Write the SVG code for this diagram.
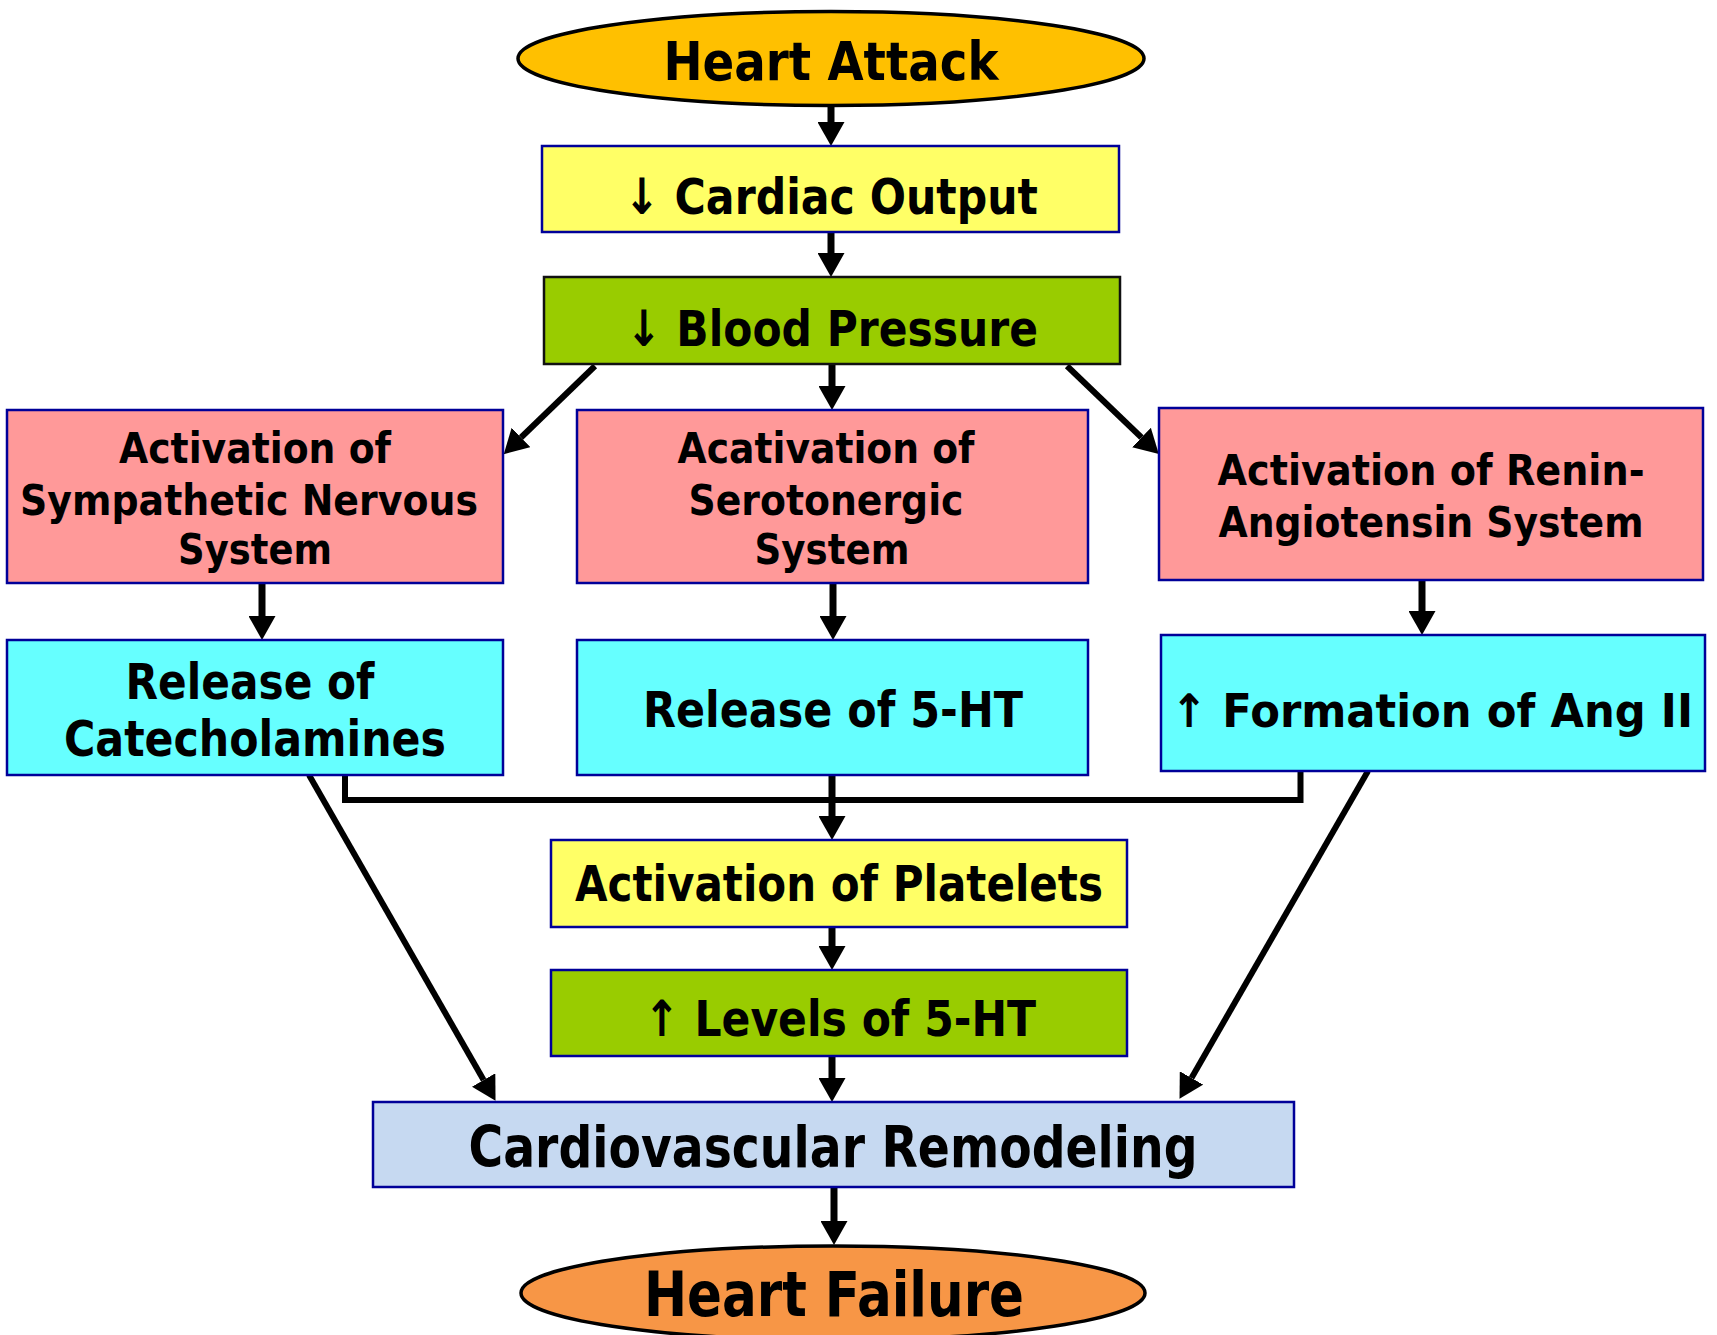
<svg xmlns="http://www.w3.org/2000/svg" width="1717" height="1335" viewBox="0 0 1717 1335">
<style>
.t{font-family:"DejaVu Sans","Liberation Sans",sans-serif;font-weight:bold;fill:#000;text-anchor:middle}
.box{stroke:#000099;stroke-width:2.5}
.ell{stroke:#000;stroke-width:3.5}
.c{stroke:#000;fill:none;stroke-linecap:butt}
.v{stroke-width:7}
.d{stroke-width:6}
</style>
<defs>
<marker id="ah" markerUnits="userSpaceOnUse" markerWidth="24" markerHeight="27" refX="0" refY="13.5" orient="auto">
<path d="M0,0 L24,13.5 L0,27 z" fill="#000"/>
</marker>
</defs>
<rect width="1717" height="1335" fill="#fff"/>

<g id="connectors">
<line class="c v" x1="831" y1="106" x2="831" y2="122" marker-end="url(#ah)"/>
<line class="c v" x1="831" y1="232" x2="831" y2="253" marker-end="url(#ah)"/>
<line class="c v" x1="832" y1="364" x2="832" y2="386" marker-end="url(#ah)"/>
<line class="c d" x1="595" y1="366" x2="521" y2="437.5" marker-end="url(#ah)"/>
<line class="c d" x1="1067" y1="366" x2="1141.5" y2="437.5" marker-end="url(#ah)"/>
<line class="c v" x1="262" y1="583" x2="262" y2="616" marker-end="url(#ah)"/>
<line class="c v" x1="833" y1="583" x2="833" y2="616" marker-end="url(#ah)"/>
<line class="c v" x1="1422" y1="580" x2="1422" y2="611" marker-end="url(#ah)"/>
<polyline class="c d" points="345,775 345,800 1300.5,800 1300.5,771"/>
<line class="c v" x1="832" y1="775" x2="832" y2="816" marker-end="url(#ah)"/>
<line class="c d" x1="309" y1="775" x2="483.6" y2="1080" marker-end="url(#ah)"/>
<line class="c d" x1="1368" y1="771" x2="1191.5" y2="1078" marker-end="url(#ah)"/>
<line class="c v" x1="832" y1="927" x2="832" y2="946" marker-end="url(#ah)"/>
<line class="c v" x1="832" y1="1056" x2="832" y2="1078" marker-end="url(#ah)"/>
<line class="c v" x1="834" y1="1187" x2="834" y2="1221" marker-end="url(#ah)"/>
</g>

<g id="heart-attack">
<ellipse class="ell" cx="831" cy="58.5" rx="313" ry="47" fill="#FFC000"/>
<text class="t" x="831" y="80" font-size="54" textLength="335" lengthAdjust="spacingAndGlyphs">Heart Attack</text>
</g>

<g id="cardiac-output">
<rect class="box" x="542" y="146" width="577" height="86" fill="#FFFF66"/>
<text class="t" x="831" y="214" font-size="50" textLength="414" lengthAdjust="spacingAndGlyphs">↓ Cardiac Output</text>
</g>

<g id="blood-pressure">
<rect x="544" y="277" width="576" height="87" fill="#99CC00" stroke="#111" stroke-width="2.5"/>
<text class="t" x="832" y="346" font-size="50" textLength="412" lengthAdjust="spacingAndGlyphs">↓ Blood Pressure</text>
</g>

<g id="sympathetic">
<rect class="box" x="7" y="410" width="496" height="173" fill="#FF9999"/>
<text class="t" x="255" y="463" font-size="43" textLength="272" lengthAdjust="spacingAndGlyphs">Activation of</text>
<text class="t" x="249" y="515" font-size="43" textLength="458" lengthAdjust="spacingAndGlyphs">Sympathetic Nervous</text>
<text class="t" x="255" y="564" font-size="43" textLength="154" lengthAdjust="spacingAndGlyphs">System</text>
</g>

<g id="serotonergic">
<rect class="box" x="577" y="410" width="511" height="173" fill="#FF9999"/>
<text class="t" x="826" y="463" font-size="43" textLength="297" lengthAdjust="spacingAndGlyphs">Acativation of</text>
<text class="t" x="826" y="515" font-size="43" textLength="275" lengthAdjust="spacingAndGlyphs">Serotonergic</text>
<text class="t" x="832" y="564" font-size="43" textLength="155" lengthAdjust="spacingAndGlyphs">System</text>
</g>

<g id="renin-angiotensin">
<rect class="box" x="1159" y="408" width="544" height="172" fill="#FF9999"/>
<text class="t" x="1431" y="485" font-size="43" textLength="427" lengthAdjust="spacingAndGlyphs">Activation of Renin-</text>
<text class="t" x="1431" y="537" font-size="43" textLength="425" lengthAdjust="spacingAndGlyphs">Angiotensin System</text>
</g>

<g id="catecholamines">
<rect class="box" x="7" y="640" width="496" height="135" fill="#66FFFF"/>
<text class="t" x="250" y="699" font-size="50" textLength="249" lengthAdjust="spacingAndGlyphs">Release of</text>
<text class="t" x="255" y="756" font-size="50" textLength="382" lengthAdjust="spacingAndGlyphs">Catecholamines</text>
</g>

<g id="release-5ht">
<rect class="box" x="577" y="640" width="511" height="135" fill="#66FFFF"/>
<text class="t" x="833" y="727" font-size="50" textLength="380" lengthAdjust="spacingAndGlyphs">Release of 5-HT</text>
</g>

<g id="ang-ii">
<rect class="box" x="1161" y="635" width="544" height="136" fill="#66FFFF"/>
<text class="t" x="1432" y="727" font-size="46" textLength="522" lengthAdjust="spacingAndGlyphs">↑ Formation of Ang II</text>
</g>

<g id="platelets">
<rect class="box" x="551" y="840" width="576" height="87" fill="#FFFF66"/>
<text class="t" x="839" y="901" font-size="50" textLength="528" lengthAdjust="spacingAndGlyphs">Activation of Platelets</text>
</g>

<g id="levels-5ht">
<rect class="box" x="551" y="970" width="576" height="86" fill="#99CC00"/>
<text class="t" x="840" y="1036" font-size="50" textLength="392" lengthAdjust="spacingAndGlyphs">↑ Levels of 5-HT</text>
</g>

<g id="remodeling">
<rect class="box" x="373" y="1102" width="921" height="85" fill="#C6D9F1"/>
<text class="t" x="833" y="1167" font-size="57" textLength="729" lengthAdjust="spacingAndGlyphs">Cardiovascular Remodeling</text>
</g>

<g id="heart-failure">
<ellipse class="ell" cx="833" cy="1293" rx="312" ry="47" fill="#F79646"/>
<text class="t" x="834" y="1316" font-size="62" textLength="380" lengthAdjust="spacingAndGlyphs">Heart Failure</text>
</g>
</svg>
